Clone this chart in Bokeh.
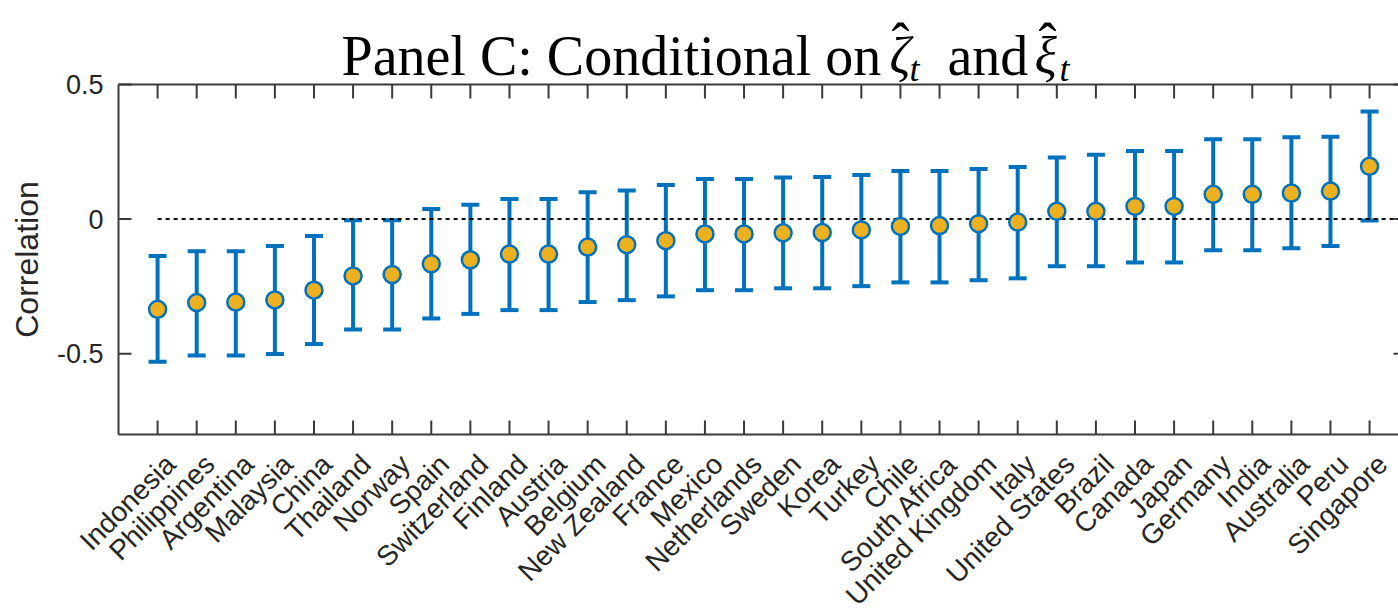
import math
from bokeh.plotting import figure
from bokeh.models import ColumnDataSource, Whisker, TeeHead, Range1d
from bokeh.core.properties import value
from bokeh.embed import file_html
from bokeh.resources import INLINE

countries = ["Indonesia", "Philippines", "Argentina", "Malaysia", "China", "Thailand",
             "Norway", "Spain", "Switzerland", "Finland", "Austria", "Belgium",
             "New Zealand", "France", "Mexico", "Netherlands", "Sweden", "Korea",
             "Turkey", "Chile", "South Africa", "United Kingdom", "Italy",
             "United States", "Brazil", "Canada", "Japan", "Germany", "India",
             "Australia", "Peru", "Singapore"]
corr = [-0.335, -0.310, -0.308, -0.300, -0.264, -0.211, -0.206, -0.166, -0.151,
        -0.130, -0.130, -0.104, -0.095, -0.080, -0.055, -0.055, -0.051, -0.050,
        -0.040, -0.027, -0.024, -0.017, -0.011, 0.029, 0.029, 0.047, 0.047,
        0.092, 0.092, 0.097, 0.104, 0.196]
upper = [-0.137, -0.119, -0.119, -0.100, -0.063, -0.004, -0.004, 0.038, 0.053,
         0.075, 0.075, 0.100, 0.106, 0.127, 0.149, 0.149, 0.155, 0.156, 0.164,
         0.179, 0.179, 0.186, 0.194, 0.229, 0.239, 0.253, 0.253, 0.297, 0.297,
         0.304, 0.306, 0.400]
lower = [-0.530, -0.507, -0.507, -0.501, -0.464, -0.410, -0.410, -0.369, -0.352,
         -0.338, -0.338, -0.308, -0.301, -0.287, -0.264, -0.264, -0.257, -0.257,
         -0.249, -0.235, -0.235, -0.227, -0.220, -0.175, -0.175, -0.161, -0.161,
         -0.116, -0.116, -0.108, -0.100, -0.005]
y_ticks = [-0.5, 0, 0.5]
y_tick_labels = ["-0.5", "0", "0.5"]
y_label = "Correlation"
title_pieces = ["Panel C: Conditional on", "\u03b6", "t", "and", "\u03be", "t"]

pos = list(range(1, len(countries) + 1))

BLUE = "#0072BD"
ORANGE = "#EDB120"
AX = "#3a3a3a"
TXT = "#262626"
SANS = "Liberation Sans"
SERIF = "Liberation Serif"

# ---- geometry (page pixels) ----
W, H = 1398, 612
LEFT = 118            # left edge of the axes box
TOP_AX = 84           # top of the axes box    (y = 0.5)
BOT_AX = 434          # bottom of the axes box (y = -0.8)
y_lo, y_hi = -0.8, 0.5
x_lo = 0.0
x_end = 32.74         # right edge of the visible area
ppu = (BOT_AX - TOP_AX) / (y_hi - y_lo)
ppx = (W - LEFT) / (x_end - x_lo)
y_top = y_hi + TOP_AX / ppu
y_bot = y_lo - (H - BOT_AX) / ppu
x_left = x_lo - LEFT / ppx

def tx(px):
    return x_lo + (px - LEFT) / ppx

def ty(py):
    return y_top - py / ppu

p = figure(width=W, height=H, output_backend="svg", toolbar_location=None,
           x_range=Range1d(x_left, x_end), y_range=Range1d(y_bot, y_top),
           x_axis_location=None, y_axis_location=None, min_border=0)
p.title = None
p.grid.visible = False
p.outline_line_color = None

src = ColumnDataSource(dict(x=pos, y=corr, hi=upper, lo=lower, name=countries))

# zero reference line
p.segment(x0=[pos[0]], x1=[x_end], y0=[0], y1=[0],
          line_color="black", line_width=2, line_dash="4 4")

wh = Whisker(source=src, base="x", upper="hi", lower="lo",
             line_color=BLUE, line_width=4,
             upper_head=TeeHead(size=18, line_color=BLUE, line_width=4),
             lower_head=TeeHead(size=18, line_color=BLUE, line_width=4))
p.add_layout(wh)

p.scatter("x", "y", source=src, size=17, fill_color=ORANGE, line_color=BLUE,
          line_width=2.5)

# ---- axes box ----
p.segment(x0=[x_lo, x_lo, x_lo], x1=[x_end, x_end, x_lo],
          y0=[y_hi, y_lo, y_lo], y1=[y_hi, y_lo, y_hi],
          line_color=AX, line_width=2)
# inward ticks
p.ray(x=pos, y=[y_lo] * len(pos), length=14, length_units="screen",
      angle=math.pi / 2, line_color=AX, line_width=2)
p.ray(x=pos, y=[y_hi] * len(pos), length=14, length_units="screen",
      angle=-math.pi / 2, line_color=AX, line_width=2)
p.ray(x=[x_lo] * len(y_ticks), y=y_ticks, length=13, length_units="screen",
      angle=0, line_color=AX, line_width=2)
p.ray(x=[x_end] * len(y_ticks), y=y_ticks, length=5, length_units="screen",
      angle=math.pi, line_color=AX, line_width=2)

# y tick labels
p.text(x=[x_lo] * len(y_ticks), y=y_ticks, text=y_tick_labels,
       x_offset=-15, text_font=value(SANS), text_font_size=value("27px"),
       text_align=value("right"), text_baseline=value("middle"), text_color=TXT)

# y axis label, centred on the box
p.text(x=[x_lo], y=[(y_lo + y_hi) / 2], text=[y_label], x_offset=-92,
       angle=math.pi / 2, text_font=value(SANS), text_font_size=value("32px"),
       text_align=value("center"), text_baseline=value("middle"), text_color=TXT)

# x tick labels, rotated 45 degrees, ending just right of each tick
p.text(x=pos, y=[y_lo] * len(pos), text=countries, angle=math.pi / 4,
       x_offset=13, y_offset=25, text_font=value(SANS),
       text_font_size=value("28px"), text_align=value("right"),
       text_baseline=value("middle"), text_color=TXT)

# ---- title, composed of pieces ----
def ttext(px, py, s, size, style="normal", align="left"):
    p.text(x=[tx(px)], y=[ty(py)], text=[s], text_font=value(SERIF),
           text_font_size=value(size), text_font_style=value(style),
           text_align=value(align), text_baseline=value("alphabetic"),
           text_color="black")

ttext(341, 55, title_pieces[0], "56px")
ttext(889, 55, title_pieces[1], "52px", "italic")
ttext(900, 42, "\u02c6", "54px", "normal", "center")
ttext(909, 68, title_pieces[2], "36px", "italic")
ttext(947, 55, title_pieces[3], "56px")
ttext(1034, 55, title_pieces[4], "52px", "italic")
ttext(1047, 42, "\u02c6", "54px", "normal", "center")
ttext(1059, 68, title_pieces[5], "36px", "italic")

open("out.html", "w").write(file_html(p, INLINE))
